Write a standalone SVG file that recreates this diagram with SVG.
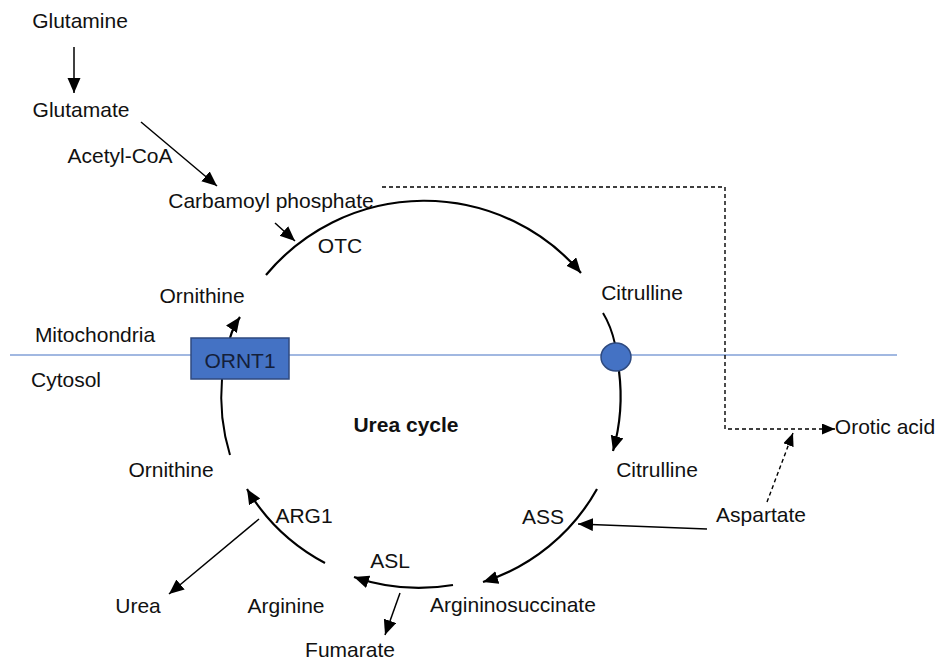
<svg xmlns="http://www.w3.org/2000/svg" width="939" height="660" viewBox="0 0 939 660">
<style>
text{font-family:"Liberation Sans",Arial,sans-serif;font-size:21px;fill:#111;text-anchor:middle}
.b{font-weight:bold}
.cyc{fill:none;stroke:#000;stroke-width:2.2;marker-end:url(#ah)}
.ln{fill:none;stroke:#000;stroke-width:1.5;marker-end:url(#ah)}
.ds{fill:none;stroke:#000;stroke-width:1.4;stroke-dasharray:4 3}
</style>
<defs>
<marker id="ah" markerUnits="userSpaceOnUse" markerWidth="16" markerHeight="14" refX="15" refY="6.5" orient="auto">
<path d="M0,0 L15,6.5 L0,13 z" fill="#000"/>
</marker>
<marker id="ahs" markerUnits="userSpaceOnUse" markerWidth="14" markerHeight="12" refX="13" refY="5.5" orient="auto">
<path d="M0,0 L13,5.5 L0,11 z" fill="#000"/>
</marker>
</defs>
<rect width="939" height="660" fill="#fff"/>
<line x1="10" y1="355" x2="897" y2="355" stroke="#4472C4" stroke-width="1.2"/>
<g id="connectors">
<path class="ln" d="M74,47 L74,93"/>
<path class="ln" d="M141,122 L217,186"/>
<path class="ln" d="M275,223 L295,241"/>
<path class="cyc" d="M266,275 A206,206 0 0 1 581,273"/>
<path fill="none" stroke="#000" stroke-width="2" d="M603,313 Q611,326 615,344"/>
<path class="cyc" d="M619,371 A200,200 0 0 1 613,451"/>
<path class="cyc" d="M597,489 A200,200 0 0 1 483,582"/>
<path class="cyc" d="M453,585 A200,200 0 0 1 354,577"/>
<path class="cyc" d="M325,563 A200,200 0 0 1 247,489"/>
<path fill="none" stroke="#000" stroke-width="2" d="M230,455 A200,200 0 0 1 222,379"/>
<path class="cyc" d="M230,338 Q233,327 240,317"/>
<path class="ln" d="M707,529 L578,524"/>
<path class="ln" d="M259,519 L169,594"/>
<path class="ln" d="M400,593 L385,635"/>
<path class="ds" d="M382,187 L725,187 L725,429 L835,429" marker-end="url(#ahs)"/>
<path class="ds" d="M767,502 L793,433" marker-end="url(#ahs)"/>
</g>
<g id="glutamine"><text x="80" y="28">Glutamine</text></g>
<g id="glutamate"><text x="81" y="117">Glutamate</text></g>
<g id="acetylcoa"><text x="120" y="163">Acetyl-CoA</text></g>
<g id="carbamoyl"><text x="271" y="208">Carbamoyl phosphate</text></g>
<g id="otc"><text x="340" y="253">OTC</text></g>
<g id="ornithine-mito"><text x="202" y="303">Ornithine</text></g>
<g id="mitochondria"><text x="95" y="342">Mitochondria</text></g>
<g id="cytosol"><text x="66" y="387">Cytosol</text></g>
<g id="ornt1">
<rect x="191" y="338" width="98" height="41" fill="#4472C4" stroke="#2F4A7F" stroke-width="1.5"/>
<text x="240" y="368" style="fill:#14203a">ORNT1</text>
</g>
<g id="transporter"><ellipse cx="616" cy="357" rx="15" ry="14" fill="#4472C4" stroke="#2F4A7F" stroke-width="1.5"/></g>
<g id="citrulline-mito"><text x="642" y="300">Citrulline</text></g>
<g id="citrulline-cyto"><text x="657" y="477">Citrulline</text></g>
<g id="urea-cycle"><text class="b" x="406" y="432">Urea cycle</text></g>
<g id="ornithine-cyto"><text x="171" y="477">Ornithine</text></g>
<g id="orotic"><text x="885" y="434">Orotic acid</text></g>
<g id="aspartate"><text x="761" y="522">Aspartate</text></g>
<g id="ass"><text x="543" y="524">ASS</text></g>
<g id="arg1"><text x="304" y="523">ARG1</text></g>
<g id="asl"><text x="390" y="568">ASL</text></g>
<g id="urea"><text x="138" y="613">Urea</text></g>
<g id="arginine"><text x="286" y="613">Arginine</text></g>
<g id="argininosuccinate"><text x="513" y="612">Argininosuccinate</text></g>
<g id="fumarate"><text x="350" y="657">Fumarate</text></g>
</svg>
